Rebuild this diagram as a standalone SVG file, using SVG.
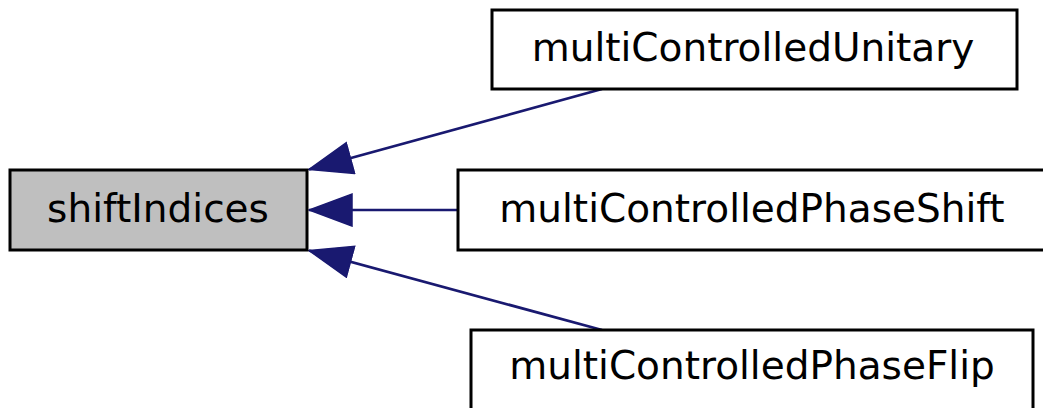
<svg xmlns="http://www.w3.org/2000/svg" width="1043" height="408" viewBox="0 0 1043 408">
  <style>
    .box { fill: #ffffff; stroke: #000000; stroke-width: 3; }
    .box.current { fill: #bfbfbf; }
    .label { font-family: "DejaVu Sans", "Liberation Sans", sans-serif; font-size: 39px; fill: #000000; text-anchor: middle; }
    .edge { fill: none; stroke: #191970; stroke-width: 2.7; }
  </style>
  <defs>
    <marker id="arrow" markerUnits="userSpaceOnUse" markerWidth="46" markerHeight="36" refX="44" refY="17" orient="auto">
      <path d="M1,1 L44,17 L1,33 Z" fill="#191970" stroke="#191970" stroke-width="1.5"/>
    </marker>
  </defs>

  <g id="connectors">
    <path class="edge" d="M602,89 L309,169.5" marker-end="url(#arrow)"/>
    <path class="edge" d="M458,210 L309,210" marker-end="url(#arrow)"/>
    <path class="edge" d="M602,330 L309,250.5" marker-end="url(#arrow)"/>
  </g>

  <g id="node-shiftIndices">
    <rect class="box current" x="10" y="170" width="297" height="80"/>
    <text class="label" x="158" y="222">shiftIndices</text>
  </g>

  <g id="node-multiControlledUnitary">
    <rect class="box" x="492" y="10" width="525" height="79"/>
    <text class="label" x="753" y="61">multiControlledUnitary</text>
  </g>

  <g id="node-multiControlledPhaseShift">
    <rect class="box" x="458" y="170" width="590" height="80"/>
    <text class="label" x="752" y="222">multiControlledPhaseShift</text>
  </g>

  <g id="node-multiControlledPhaseFlip">
    <rect class="box" x="471" y="330" width="562" height="80"/>
    <text class="label" x="752" y="379">multiControlledPhaseFlip</text>
  </g>
</svg>
